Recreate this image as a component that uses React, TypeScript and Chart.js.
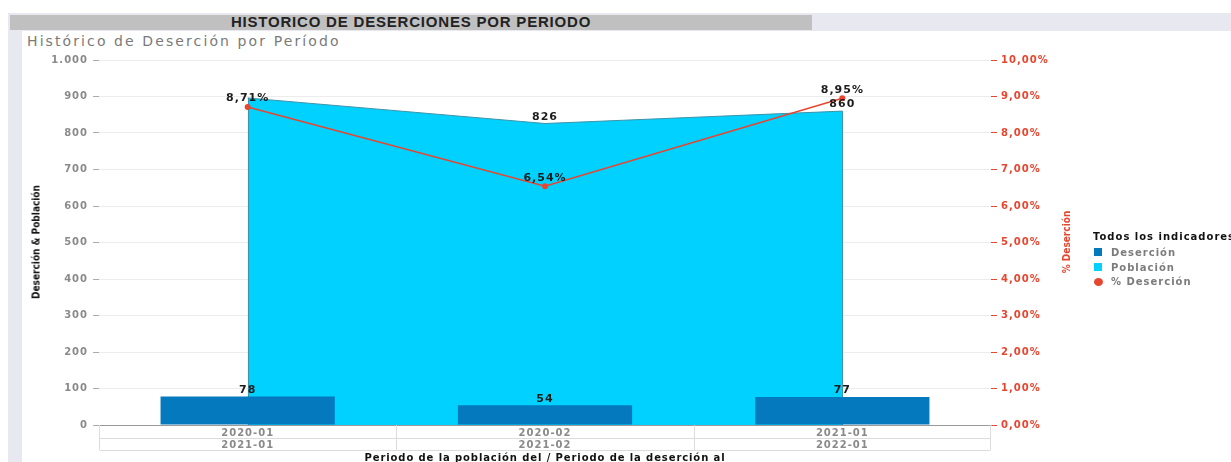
import React, { useEffect, useRef } from "react";
import { Chart, registerables } from "chart.js";

Chart.register(...registerables);

// ---- data ----
const periodosPoblacion = ["2020-01", "2020-02", "2021-01"];
const periodosDesercion = ["2021-01", "2021-02", "2022-01"];
const desercion = [78, 54, 77];
const poblacion = [896, 826, 860];
const pctDesercion = [8.71, 6.54, 8.95];
const leftTicks = { min: 0, max: 1000, step: 100 };
const rightTicks = { min: 0, max: 10, step: 1 };

const COL_DES = "#0479bd";
const COL_POB = "#00d1ff";
const COL_PCT = "#e8452f";
const SPACING = "1px";

const fmtThousands = (v: number) => {
  const s = Math.round(v).toString();
  return s.replace(/\B(?=(\d{3})+(?!\d))/g, ".");
};
const fmtPct = (v: number) => v.toFixed(2).replace(".", ",") + "%";

const spacingPlugin = {
  id: "spacing",
  beforeLayout(chart: any) {
    chart.ctx.letterSpacing = SPACING;
  },
  beforeDraw(chart: any) {
    chart.ctx.letterSpacing = SPACING;
  },
};

const areaEdgesPlugin = {
  id: "areaEdges",
  afterDatasetDraw(chart: any, args: any) {
    if (args.index !== 0) return;
    const meta = chart.getDatasetMeta(0);
    const y0 = chart.scales.y.getPixelForValue(0);
    const ctx = chart.ctx;
    ctx.save();
    ctx.strokeStyle = "#3f93a8";
    ctx.lineWidth = 1;
    const pts = [meta.data[0], meta.data[meta.data.length - 1]];
    pts.forEach((p: any) => {
      ctx.beginPath();
      ctx.moveTo(Math.round(p.x) + 0.5, p.y);
      ctx.lineTo(Math.round(p.x) + 0.5, y0);
      ctx.stroke();
    });
    ctx.restore();
  },
};

const tablePlugin = {
  id: "xTable",
  afterDraw(chart: any) {
    const { ctx, chartArea } = chart;
    const x = chart.scales.x;
    const top = chartArea.bottom;
    const rowH = 12.5;
    ctx.save();
    ctx.strokeStyle = "#dcdcdc";
    ctx.lineWidth = 1;
    const l = Math.round(chartArea.left) + 0.5;
    const r = Math.round(chartArea.right) - 0.5;
    ctx.beginPath();
    ctx.moveTo(l, top);
    ctx.lineTo(l, top + rowH * 2);
    ctx.moveTo(r, top);
    ctx.lineTo(r, top + rowH * 2);
    ctx.moveTo(l, Math.round(top + rowH) + 0.5);
    ctx.lineTo(r, Math.round(top + rowH) + 0.5);
    ctx.moveTo(l, Math.round(top + rowH * 2) + 0.5);
    ctx.lineTo(r, Math.round(top + rowH * 2) + 0.5);
    const n = x.getLabels().length;
    for (let i = 0; i < n - 1; i++) {
      const b = Math.round((x.getPixelForValue(i) + x.getPixelForValue(i + 1)) / 2) + 0.5;
      ctx.moveTo(b, top);
      ctx.lineTo(b, top + rowH * 2);
    }
    ctx.stroke();
    ctx.restore();
  },
};

const labelsPlugin = {
  id: "valueLabels",
  afterDatasetsDraw(chart: any) {
    const ctx = chart.ctx;
    ctx.save();
    ctx.font = 'bold 11px "DejaVu Sans"';
    ctx.letterSpacing = SPACING;
    ctx.fillStyle = "#1c1c1c";
    ctx.textAlign = "center";
    ctx.textBaseline = "middle";
    const boxes: { l: number; r: number; t: number; b: number }[] = [];
    const specs = [
      { ds: 2, values: pctDesercion, fmt: fmtPct, off: 8.5 },
      { ds: 0, values: poblacion, fmt: (v: number) => String(v), off: 6.5 },
      { ds: 1, values: desercion, fmt: (v: number) => String(v), off: 6.5 },
    ];
    specs.forEach((s) => {
      const meta = chart.getDatasetMeta(s.ds);
      s.values.forEach((v, j) => {
        const el: any = meta.data[j];
        const text = s.fmt(v);
        const w = ctx.measureText(text).width;
        const cx = el.x;
        const cy = el.y - s.off;
        const box = { l: cx - w / 2, r: cx + w / 2, t: cy - 5.5, b: cy + 5.5 };
        const hit = boxes.some((o) => box.l < o.r && box.r > o.l && box.t < o.b && box.b > o.t);
        if (hit) return;
        boxes.push(box);
        ctx.fillText(text, cx, cy);
      });
    });
    ctx.restore();
  },
};

function ChartCanvas() {
  const ref = useRef<HTMLCanvasElement | null>(null);
  useEffect(() => {
    if (!ref.current) return;
    const labels = periodosPoblacion.map((p, i) => [p, periodosDesercion[i]]);
    const tickFont = { family: '"DejaVu Sans"', size: 10, weight: "bold" as const };
    const chart = new Chart(ref.current, {
      data: {
        labels,
        datasets: [
          {
            type: "line" as const,
            label: "Población",
            data: poblacion,
            yAxisID: "y",
            fill: "origin",
            backgroundColor: COL_POB,
            borderColor: "#3f93a8",
            borderWidth: 1,
            pointRadius: 0,
            tension: 0,
            order: 3,
          },
          {
            type: "bar" as const,
            label: "Deserción",
            data: desercion,
            yAxisID: "y",
            backgroundColor: COL_DES,
            borderWidth: 0,
            categoryPercentage: 1,
            barPercentage: 0.586,
            order: 2,
          },
          {
            type: "line" as const,
            label: "% Deserción",
            data: pctDesercion,
            yAxisID: "y1",
            borderColor: COL_PCT,
            backgroundColor: COL_PCT,
            borderWidth: 1.5,
            pointRadius: 3,
            pointBorderWidth: 0,
            fill: false,
            tension: 0,
            order: 1,
          },
        ],
      },
      options: {
        animation: false,
        responsive: true,
        maintainAspectRatio: false,
        layout: { padding: { left: 0, right: 180, top: 12, bottom: 0 } },
        plugins: {
          legend: { display: false },
          tooltip: { enabled: false },
          title: { display: false },
        },
        scales: {
          x: {
            type: "category",
            offset: true,
            grid: { display: false, drawTicks: false },
            border: { display: true, color: "#9a9a9a", width: 1 },
            ticks: {
              padding: 2,
              color: "#8a8a8a",
              font: tickFont,
              maxRotation: 0,
              autoSkip: false,
            },
            afterFit: (s: any) => {
              s.height = 37;
            },
          },
          y: {
            position: "left",
            min: leftTicks.min,
            max: leftTicks.max,
            ticks: {
              stepSize: leftTicks.step,
              color: "#8a8a8a",
              font: tickFont,
              padding: 5,
              callback: (v: any) => fmtThousands(Number(v)),
            },
            grid: { color: "#ececec", tickColor: "#aaaaaa", tickLength: 6, lineWidth: 1 },
            border: { display: false },
            afterFit: (s: any) => {
              s.width = 76;
            },
          },
          y1: {
            position: "right",
            min: rightTicks.min,
            max: rightTicks.max,
            ticks: {
              stepSize: rightTicks.step,
              color: COL_PCT,
              font: tickFont,
              padding: 4,
              callback: (v: any) => fmtPct(Number(v)),
            },
            grid: { drawOnChartArea: false, tickColor: COL_PCT, tickLength: 6 },
            border: { display: false },
            afterFit: (s: any) => {
              s.width = 60;
            },
          },
        },
      } as any,
      plugins: [spacingPlugin, areaEdgesPlugin, labelsPlugin, tablePlugin],
    } as any);
    return () => chart.destroy();
  }, []);
  return <canvas ref={ref} />;
}

export default function App() {
  const sans = '"DejaVu Sans", sans-serif';
  const cond = '"DejaVu Sans Condensed", "DejaVu Sans", sans-serif';
  return (
    <div
      style={{
        position: "absolute",
        left: 0,
        top: 0,
        width: 1231,
        height: 462,
        overflow: "hidden",
        background: "#ffffff",
        fontFamily: sans,
      }}
    >
      {/* lavender frame */}
      <div style={{ position: "absolute", left: 8, top: 13, right: 0, bottom: 0, background: "#e8e8f1" }} />
      {/* gray title bar */}
      <div
        style={{
          position: "absolute",
          left: 10,
          top: 15,
          width: 802,
          height: 15,
          background: "#c0c0c0",
        }}
      />
      <div
        style={{
          position: "absolute",
          left: 10,
          top: 12,
          width: 802,
          height: 20,
          lineHeight: "20px",
          textAlign: "center",
          fontFamily: '"Liberation Sans", Arial, sans-serif',
          fontWeight: "bold",
          fontSize: 15,
          letterSpacing: "0.8px",
          color: "#222",
          whiteSpace: "nowrap",
        }}
      >
        HISTORICO DE DESERCIONES POR PERIODO
      </div>
      {/* white panel */}
      <div style={{ position: "absolute", left: 22, top: 31, right: 0, bottom: 0, background: "#ffffff" }} />
      <div
        style={{
          position: "absolute",
          left: 27,
          top: 32.5,
          fontSize: 14,
          letterSpacing: "2.1px",
          color: "#7a7a7a",
          whiteSpace: "nowrap",
          lineHeight: "17px",
        }}
      >
        Histórico de Deserción por Período
      </div>
      <div style={{ position: "absolute", left: 23, top: 48, width: 1208, height: 414 }}>
        <ChartCanvas />
      </div>
      {/* axis titles */}
      <div
        style={{
          position: "absolute",
          left: 36,
          top: 242,
          transform: "translate(-50%, -50%) rotate(-90deg)",
          fontFamily: cond,
          fontStretch: "condensed",
          fontWeight: "bold",
          fontSize: 10,
          color: "#111",
          whiteSpace: "nowrap",
        }}
      >
        Deserción &amp; Población
      </div>
      <div
        style={{
          position: "absolute",
          left: 1066,
          top: 242,
          transform: "translate(-50%, -50%) rotate(-90deg)",
          fontFamily: cond,
          fontStretch: "condensed",
          fontWeight: "bold",
          fontSize: 10,
          color: COL_PCT,
          whiteSpace: "nowrap",
        }}
      >
        % Deserción
      </div>
      <div
        style={{
          position: "absolute",
          left: 545,
          top: 452,
          transform: "translateX(-50%)",
          fontWeight: "bold",
          fontSize: 10,
          letterSpacing: "0.9px",
          color: "#111",
          whiteSpace: "nowrap",
          lineHeight: "12px",
        }}
      >
        Periodo de la población del / Periodo de la deserción al
      </div>
      {/* legend */}
      <div
        style={{
          position: "absolute",
          left: 1093,
          top: 230,
          fontWeight: "bold",
          fontSize: 10,
          letterSpacing: "1px",
          color: "#111",
          whiteSpace: "nowrap",
          lineHeight: "13px",
        }}
      >
        Todos los indicadores
      </div>
      {[
        { label: "Deserción", color: COL_DES, shape: "square", y: 252 },
        { label: "Población", color: COL_POB, shape: "square", y: 267 },
        { label: "% Deserción", color: COL_PCT, shape: "circle", y: 281.5 },
      ].map((it) => (
        <React.Fragment key={it.label}>
          <div
            style={{
              position: "absolute",
              left: 1094,
              top: it.y - 4,
              width: it.shape === "circle" ? 9 : 8,
              height: 8,
              borderRadius: it.shape === "circle" ? "50%" : 0,
              background: it.color,
            }}
          />
          <div
            style={{
              position: "absolute",
              left: 1111,
              top: it.y - 6.5,
              fontWeight: "bold",
              fontSize: 10,
              letterSpacing: "1px",
              color: "#7c7c7c",
              whiteSpace: "nowrap",
              lineHeight: "13px",
            }}
          >
            {it.label}
          </div>
        </React.Fragment>
      ))}
    </div>
  );
}
